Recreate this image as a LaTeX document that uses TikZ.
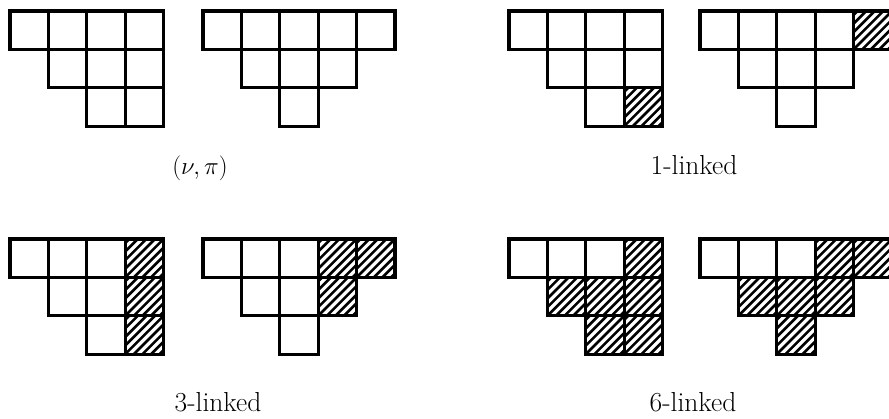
\documentclass[tikz,border=0pt]{standalone}
\usepackage{tikz}

% one unit = one point; y grows downward through negated coordinates
\newcommand\cellsize{38.4}

\tikzset{
  cellframe/.style={line width=3.2pt, line join=miter},
  hatchline/.style={line width=2.6pt},
  caption/.style={font=\fontsize{27.5}{33}\selectfont, anchor=base, inner sep=0pt},
}

% a plain cell at column #1, row #2 of the diagram whose corner is the current shift
\newcommand\plaincell[2]{%
  \draw[cellframe] (#1*\cellsize,-#2*\cellsize) rectangle ++(\cellsize,-\cellsize);}

% a hatched cell
\newcommand\hatchcell[2]{%
  \begin{scope}
    \clip (#1*\cellsize,-#2*\cellsize) rectangle ++(\cellsize,-\cellsize);
    \foreach \k in {-5,...,5}
      \draw[hatchline] (#1*\cellsize+\k*8.6,-#2*\cellsize-\cellsize) -- ++(45,45);
  \end{scope}
  \plaincell{#1}{#2}}

\begin{document}
\begin{tikzpicture}[x=1pt,y=1pt]
  \useasboundingbox (0,0) rectangle (889,-419);

  % (nu, pi): first pair
  \begin{scope}[shift={(10,-11)}]
    \foreach \c/\r in {0/0,1/0,2/0,3/0,1/1,2/1,3/1,2/2,3/2} \plaincell{\c}{\r};
  \end{scope}
  \begin{scope}[shift={(203,-11)}]
    \foreach \c/\r in {0/0,1/0,2/0,3/0,4/0,1/1,2/1,3/1,2/2} \plaincell{\c}{\r};
  \end{scope}

  % 1-linked
  \begin{scope}[shift={(509,-11)}]
    \foreach \c/\r in {0/0,1/0,2/0,3/0,1/1,2/1,3/1,2/2} \plaincell{\c}{\r};
    \hatchcell{3}{2}
  \end{scope}
  \begin{scope}[shift={(700,-11)}]
    \foreach \c/\r in {0/0,1/0,2/0,3/0,1/1,2/1,3/1,2/2} \plaincell{\c}{\r};
    \hatchcell{4}{0}
  \end{scope}

  % 3-linked
  \begin{scope}[shift={(10,-239)}]
    \foreach \c/\r in {0/0,1/0,2/0,1/1,2/1,2/2} \plaincell{\c}{\r};
    \foreach \c/\r in {3/0,3/1,3/2} \hatchcell{\c}{\r};
  \end{scope}
  \begin{scope}[shift={(203,-239)}]
    \foreach \c/\r in {0/0,1/0,2/0,1/1,2/1,2/2} \plaincell{\c}{\r};
    \foreach \c/\r in {3/0,4/0,3/1} \hatchcell{\c}{\r};
  \end{scope}

  % 6-linked
  \begin{scope}[shift={(509,-239)}]
    \foreach \c/\r in {0/0,1/0,2/0} \plaincell{\c}{\r};
    \foreach \c/\r in {3/0,1/1,2/1,3/1,2/2,3/2} \hatchcell{\c}{\r};
  \end{scope}
  \begin{scope}[shift={(700,-239)}]
    \foreach \c/\r in {0/0,1/0,2/0} \plaincell{\c}{\r};
    \foreach \c/\r in {3/0,4/0,1/1,2/1,3/1,2/2} \hatchcell{\c}{\r};
  \end{scope}

  % captions
  \node[caption] (capA) at (200,-175) {$(\nu,\pi)$};
  \node[caption] (capB) at (694,-175) {1-linked};
  \node[caption] (capC) at (218,-412) {3-linked};
  \node[caption] (capD) at (693,-412) {6-linked};
\end{tikzpicture}
\end{document}
